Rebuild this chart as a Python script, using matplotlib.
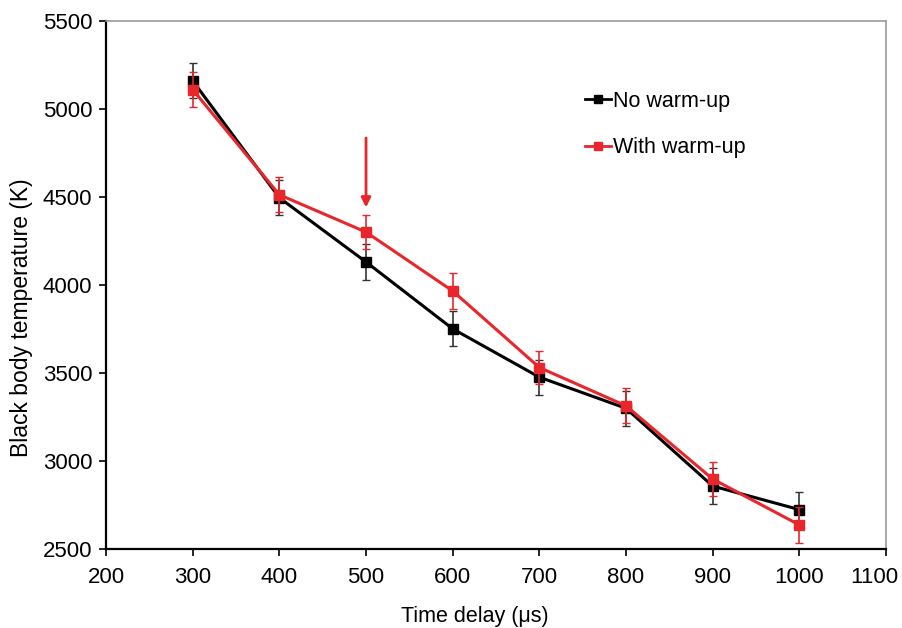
import matplotlib.pyplot as plt
import matplotlib.transforms as mtransforms
from matplotlib.lines import Line2D

plt.rcParams['font.family'] = ['Liberation Sans', 'DejaVu Sans']

time_delay = [300, 400, 500, 600, 700, 800, 900, 1000]
no_warmup = [5160, 4495, 4130, 3750, 3475, 3298, 2856, 2722]
no_warmup_err = [100, 100, 100, 100, 100, 100, 100, 100]
with_warmup = [5110, 4512, 4300, 3965, 3530, 3312, 2896, 2635]
with_warmup_err = [100, 100, 95, 100, 95, 100, 95, 100]

arrow_x = 500
arrow_top = 4835
arrow_tip = 4440

red = '#e8262b'

fig = plt.figure(figsize=(9.03, 6.28), dpi=100)
ax = fig.add_axes([0.1174, 0.1263, 0.8638, 0.8403])

ax.errorbar(time_delay, no_warmup, yerr=no_warmup_err, color='black', lw=2.2,
            marker='s', ms=7, capsize=3, elinewidth=1.2, ecolor='#333333',
            zorder=3)
ax.errorbar(time_delay, with_warmup, yerr=with_warmup_err, color=red, lw=2.2,
            marker='s', ms=7, capsize=3, elinewidth=1.2, ecolor=red,
            zorder=4)

ax.annotate('', xy=(arrow_x, arrow_tip), xytext=(arrow_x, arrow_top),
            arrowprops=dict(arrowstyle='-|>', color=red, lw=2,
                            mutation_scale=14, shrinkA=0, shrinkB=0))

ax.set_xlim(200, 1100)
ax.set_ylim(2500, 5500)
ax.set_xticks(range(200, 1101, 100))
ax.set_yticks(range(2500, 5501, 500))
ax.tick_params(labelsize=16, direction='out', length=5, width=1.2)
ax.tick_params(axis='x', pad=8)
ax.tick_params(axis='y', pad=5)

# last x label sits a bit left in the original
fig.canvas.draw()
last = ax.get_xticklabels()[-1]
last.set_transform(last.get_transform() +
                   mtransforms.ScaledTranslation(-12 / 100, 0, fig.dpi_scale_trans))

for s in ['left', 'bottom']:
    ax.spines[s].set_linewidth(1.6)
    ax.spines[s].set_color('black')
for s in ['top', 'right']:
    ax.spines[s].set_linewidth(1.2)
    ax.spines[s].set_color('#999999')

ax.set_xlabel('Time delay (μs)', fontsize=15.5)
ax.set_ylabel('Black body temperature (K)', fontsize=16.5)
ax.xaxis.set_label_coords(0.473, -0.108)
ax.yaxis.set_label_coords(-0.094, 0.4375)

handles = [Line2D([], [], color='black', lw=2, marker='s', ms=6),
           Line2D([], [], color=red, lw=2, marker='s', ms=6)]
ax.legend(handles, ['No warm-up', 'With warm-up'], loc='upper left',
          bbox_to_anchor=(0.614, 0.868), frameon=False, fontsize=15.5,
          handlelength=1.2, handletextpad=0.1, labelspacing=1.2,
          borderpad=0, borderaxespad=0)

fig.savefig('out.png', dpi=100)
